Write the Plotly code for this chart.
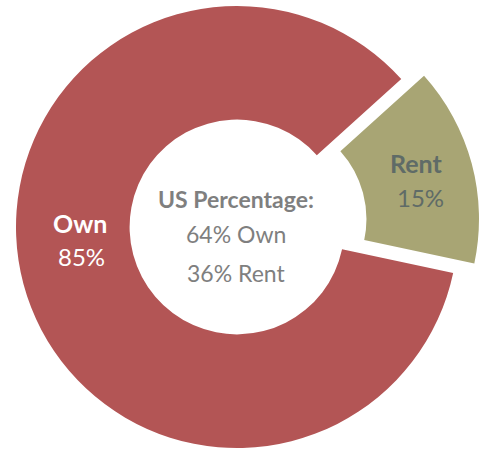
import plotly.graph_objects as go

# Data
labels = ["Own", "Rent"]
values = [85, 15]
colors = ["#B35555", "#A8A574"]
center_title = "US Percentage:"
center_lines = ["64% Own", "36% Rent"]

W, H = 480, 451
FONT = "Lato"

def px_x(x):
    return x / W

def px_y(y):
    return 1 - y / H

def clamp(v):
    return min(1.0, max(0.0, v))

transparent = "rgba(0,0,0,0)"

fig = go.Figure()

# Main ring: Own slice visible (centre, radius in px)
cx, cy, r = 237, 227, 221
fig.add_trace(go.Pie(
    labels=labels, values=values, sort=False, direction="clockwise",
    rotation=102, hole=0.486,
    marker=dict(colors=[colors[0], transparent], line=dict(width=0)),
    textinfo="none", hoverinfo="label+percent", showlegend=False,
    domain=dict(x=[clamp(px_x(cx - r)), clamp(px_x(cx + r))],
                y=[clamp(px_y(cy + r)), clamp(px_y(cy - r))]),
))

# Exploded Rent slice (same data, shifted outward)
cx2, cy2, r2 = 265, 219, 214
fig.add_trace(go.Pie(
    labels=labels, values=values, sort=False, direction="clockwise",
    rotation=102, hole=0.474,
    marker=dict(colors=[transparent, colors[1]], line=dict(width=0)),
    textinfo="none", hoverinfo="label+percent", showlegend=False,
    domain=dict(x=[clamp(px_x(cx2 - r2)), clamp(px_x(cx2 + r2))],
                y=[clamp(px_y(cy2 + r2)), clamp(px_y(cy2 - r2))]),
))

total = sum(values)
pcts = [f"{round(v / total * 100)}%" for v in values]

annotations = []
# Slice labels
label_pos = {"Own": ((80, 223), (81, 256), "white"), "Rent": ((416, 163), (420, 198), "#5F6B67")}
for lab, pct in zip(labels, pcts):
    (x1, y1), (x2, y2), col = label_pos[lab]
    annotations.append(dict(text=f"<b>{lab}</b>", x=px_x(x1), y=px_y(y1), xref="paper", yref="paper",
                            showarrow=False, xanchor="center", yanchor="middle",
                            font=dict(family=FONT, size=25, color=col)))
    annotations.append(dict(text=pct, x=px_x(x2), y=px_y(y2), xref="paper", yref="paper",
                            showarrow=False, xanchor="center", yanchor="middle",
                            font=dict(family=FONT, size=24, color=col)))

# Center text
annotations.append(dict(text=f"<b>{center_title}</b>", x=px_x(236), y=px_y(199), xref="paper", yref="paper",
                        showarrow=False, xanchor="center", yanchor="middle",
                        font=dict(family=FONT, size=23, color="#7F7F7F")))
for line, yy in zip(center_lines, [234, 273]):
    annotations.append(dict(text=line, x=px_x(236), y=px_y(yy), xref="paper", yref="paper",
                            showarrow=False, xanchor="center", yanchor="middle",
                            font=dict(family=FONT, size=23, color="#7F7F7F")))

fig.update_layout(
    width=W, height=H, margin=dict(l=0, r=0, t=0, b=0),
    paper_bgcolor="white", plot_bgcolor="white",
    annotations=annotations, showlegend=False,
)

fig.write_html(
    "out.html",
    config={"displayModeBar": False},
    post_script="document.body.style.margin='0';document.body.style.overflow='hidden';",
)
